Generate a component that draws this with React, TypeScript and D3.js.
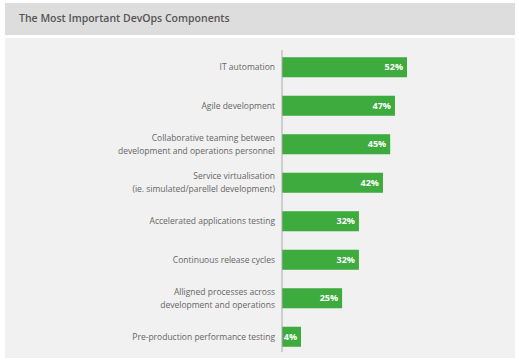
import React, { useRef, useEffect } from "react";
import * as d3 from "d3";

const title = "The Most Important DevOps Components";

const categories: string[][] = [
  ["IT automation"],
  ["Agile development"],
  ["Collaborative teaming between", "development and operations personnel"],
  ["Service virtualisation", "(ie. simulated/parellel development)"],
  ["Accelerated applications testing"],
  ["Continuous release cycles"],
  ["Alligned processes across", "development and operations"],
  ["Pre-production performance testing"],
];

const values = [52, 47, 45, 42, 32, 32, 25, 4];

const W = 519;
const H = 362;

export default function App() {
  const svgRef = useRef<SVGSVGElement>(null);

  useEffect(() => {
    if (!svgRef.current) return;
    const svg = d3.select(svgRef.current);
    svg.selectAll("*").remove();

    // header band
    svg.append("rect").attr("x", 5).attr("y", 3).attr("width", 510).attr("height", 32).attr("fill", "#dddddd");
    svg
      .append("text")
      .attr("x", 19)
      .attr("y", 22)
      .style("font-family", "'Open Sans', sans-serif")
      .style("font-size", "10.5px")
      .style("font-weight", 600)
      .attr("fill", "#555")
      .text(title);

    // chart panel
    svg.append("rect").attr("x", 5).attr("y", 38).attr("width", 510).attr("height", 320).attr("fill", "#f1f1f1");

    const x0 = 282;
    const x = d3.scaleLinear().domain([0, 52]).range([x0, 407]);
    const y = d3
      .scaleBand<number>()
      .domain(d3.range(values.length))
      .range([48, 356])
      .paddingInner(0.48)
      .paddingOuter(0.24);

    const g = svg.append("g");

    g.selectAll("rect.bar")
      .data(values)
      .enter()
      .append("rect")
      .attr("class", "bar")
      .attr("x", x0)
      .attr("y", (_, i) => y(i)!)
      .attr("width", (d) => Math.max(x(d) - x0, 19))
      .attr("height", y.bandwidth())
      .attr("fill", "#3dab3d");

    g.selectAll("text.val")
      .data(values)
      .enter()
      .append("text")
      .attr("class", "val")
      .attr("x", (d) => x0 + Math.max(x(d) - x0, 19) - 4)
      .attr("y", (_, i) => y(i)! + y.bandwidth() / 2)
      .attr("dy", "0.35em")
      .attr("text-anchor", "end")
      .style("font-family", "'Open Sans', sans-serif")
      .style("font-size", "9px")
      .style("font-weight", 700)
      .attr("fill", "#fff")
      .text((d) => `${d}%`);

    const labels = g
      .selectAll("text.cat")
      .data(categories)
      .enter()
      .append("text")
      .attr("class", "cat")
      .attr("text-anchor", "end")
      .style("font-family", "'Open Sans', sans-serif")
      .style("font-size", "8.5px")
      .attr("fill", "#666");

    labels.each(function (lines, i) {
      const cy = y(i)! + y.bandwidth() / 2;
      const lh = 13;
      const start = cy - ((lines.length - 1) * lh) / 2;
      lines.forEach((line, k) => {
        d3.select(this)
          .append("tspan")
          .attr("x", 275)
          .attr("y", start + k * lh)
          .attr("dy", "0.35em")
          .text(line);
      });
    });

    // axis line
    svg
      .append("line")
      .attr("x1", x0)
      .attr("x2", x0)
      .attr("y1", 50)
      .attr("y2", 352)
      .attr("stroke", "#aaa")
      .attr("stroke-width", 1);
  }, []);

  return (
    <svg
      ref={svgRef}
      width={W}
      height={H}
      style={{ position: "absolute", left: 0, top: 0, background: "#fff" }}
    ></svg>
  );
}
